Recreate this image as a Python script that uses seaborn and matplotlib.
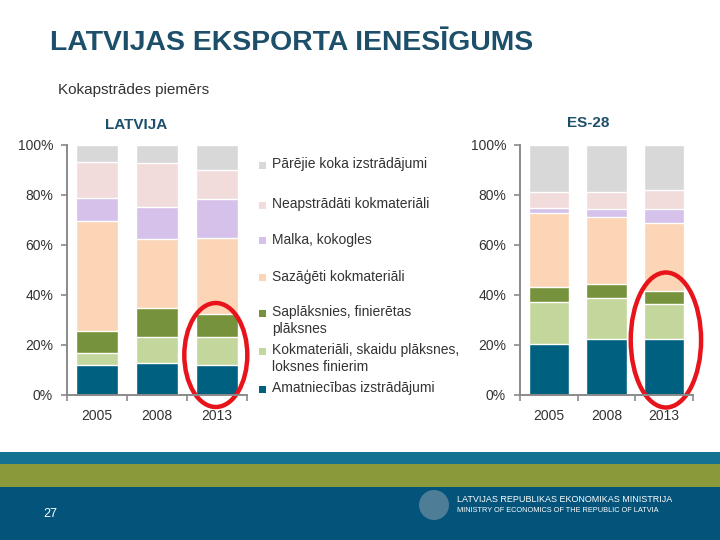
import matplotlib
matplotlib.use("Agg")
import matplotlib.pyplot as plt
from matplotlib.patches import Ellipse, Rectangle
import numpy as np
import pandas as pd
import seaborn as sns

# data (share of wood-product exports, %)
years = ["2005", "2008", "2013"]
categories = [
    "Amatniecības izstrādājumi",
    "Kokmateriāli, skaidu plāksnes,\nloksnes finierim",
    "Saplāksnies, finierētas\nplāksnes",
    "Sazāģēti kokmateriāli",
    "Malka, kokogles",
    "Neapstrādāti kokmateriāli",
    "Pārējie koka izstrādājumi",
]
latvija_amat = [12.0, 12.9, 11.9]
latvija_kokmat = [4.7, 10.4, 11.2]
latvija_saplak = [9.0, 11.6, 9.4]
latvija_sazag = [43.8, 27.4, 30.4]
latvija_malka = [9.4, 13.0, 15.4]
latvija_neap = [14.4, 17.4, 11.6]
latvija_pareji = [6.7, 7.3, 10.1]

es28_amat = [20.5, 22.5, 22.3]
es28_kokmat = [16.6, 16.2, 14.0]
es28_saplak = [6.2, 5.8, 5.4]
es28_sazag = [29.4, 26.6, 27.0]
es28_malka = [2.2, 3.4, 5.8]
es28_neap = [6.2, 6.6, 7.4]
es28_pareji = [18.9, 18.9, 18.1]

colors = ["#00607f", "#c3d69b", "#77923c", "#fbd5b5", "#d5c1e9", "#f2dcdb", "#d8d8d8"]
dark = "#1d4f6a"
txt = "#333333"

plt.rcParams["font.family"] = ["Liberation Sans", "DejaVu Sans"]


def stacked(ax, series):
    df = pd.DataFrame(dict(zip(categories, series)), index=years)
    cum = df.cumsum(axis=1)
    # draw from the top segment down so lower segments sit on top
    for cat, col in reversed(list(zip(categories, colors))):
        sns.barplot(x=years, y=cum[cat].values, color=col, width=0.7,
                    edgecolor="white", linewidth=1, saturation=1, ax=ax)
    ax.set_xlim(-0.5, 2.5)
    ax.set_ylim(0, 100)
    ax.set_yticks([0, 20, 40, 60, 80, 100])
    ax.set_yticklabels([f"{v}%" for v in [0, 20, 40, 60, 80, 100]])
    ax.set_xticks([0, 1, 2])
    ax.set_xticklabels(years)
    ax.set_xticks([-0.5, 0.5, 1.5, 2.5], minor=True)
    ax.tick_params(axis="x", which="major", length=0, pad=10, labelsize=10, labelcolor=txt)
    ax.tick_params(axis="x", which="minor", length=4, color="#8a8a8a", width=1.2)
    ax.tick_params(axis="y", length=4, color="#8a8a8a", width=1.2, pad=6,
                   labelsize=10, labelcolor=txt)
    for s in ["top", "right"]:
        ax.spines[s].set_visible(False)
    for s in ["left", "bottom"]:
        ax.spines[s].set_color("#8a8a8a")
        ax.spines[s].set_linewidth(1.4)
    ax.set_xlabel("")
    ax.set_ylabel("")
    ax.set_facecolor("none")


fig = plt.figure(figsize=(7.2, 5.4), dpi=100)

ax1 = fig.add_axes([67 / 720, 145 / 540, 180 / 720, 250 / 540])
stacked(ax1, [latvija_amat, latvija_kokmat, latvija_saplak, latvija_sazag,
              latvija_malka, latvija_neap, latvija_pareji])
ax2 = fig.add_axes([520 / 720, 145 / 540, 173 / 720, 250 / 540])
stacked(ax2, [es28_amat, es28_kokmat, es28_saplak, es28_sazag,
              es28_malka, es28_neap, es28_pareji])

# red highlight rings around 2013
ax1.add_patch(Ellipse((1.98, 16), 1.05, 41.6, fill=False, edgecolor="#e8141b",
                      linewidth=3.2, clip_on=False))
ax2.add_patch(Ellipse((2.03, 22), 1.22, 54, fill=False, edgecolor="#e8141b",
                      linewidth=3.2, clip_on=False))

# titles
fig.text(50 / 720, 1 - 43 / 540, "LATVIJAS EKSPORTA IENESĪGUMS", fontsize=20.4,
         fontweight="bold", color=dark, va="center", ha="left")
fig.text(58 / 720, 1 - 90 / 540, "Kokapstrādes piemērs", fontsize=11,
         color=txt, va="center", ha="left")
fig.text(136 / 720, 1 - 125 / 540, "LATVIJA", fontsize=11, fontweight="bold",
         color=dark, va="center", ha="center")
fig.text(588 / 720, 1 - 123 / 540, "ES-28", fontsize=11, fontweight="bold",
         color=dark, va="center", ha="center")

# legend (top to bottom)
legend_y = [389, 351, 313, 277, 241, 205, 165]
for cat, col, y in zip(categories, colors, legend_y):
    fig.add_artist(Rectangle((259 / 720, 1 - (y + 3.5) / 540), 7 / 720, 7 / 540,
                             facecolor=col, edgecolor="none",
                             transform=fig.transFigure))
    fig.text(272 / 720, 1 - (y - 8) / 540, cat, fontsize=10, color=txt,
             va="top", ha="left", linespacing=1.3)

# footer bands
fig.add_artist(Rectangle((0, 0), 1, 53 / 540, facecolor="#03537a",
                         edgecolor="none", transform=fig.transFigure))
fig.add_artist(Rectangle((0, 53 / 540), 1, 23 / 540, facecolor="#8a9a3b",
                         edgecolor="none", transform=fig.transFigure))
fig.add_artist(Rectangle((0, 76 / 540), 1, 12 / 540, facecolor="#13728f",
                         edgecolor="none", transform=fig.transFigure))
fig.add_artist(Ellipse((434 / 720, 1 - 505 / 540), 30 / 720, 30 / 540,
                       facecolor="#6f8fa6", edgecolor="none", alpha=0.7,
                       transform=fig.transFigure))
fig.text(50 / 720, 1 - 514 / 540, "27", fontsize=9, color="white",
         va="center", ha="center")
fig.text(457 / 720, 1 - 499 / 540, "LATVIJAS REPUBLIKAS EKONOMIKAS MINISTRIJA",
         fontsize=6.5, color="white", va="center", ha="left")
fig.text(457 / 720, 1 - 511 / 540, "MINISTRY OF ECONOMICS OF THE REPUBLIC OF LATVIA",
         fontsize=5.3, color="white", va="center", ha="left")

fig.savefig("out.png", dpi=100)
